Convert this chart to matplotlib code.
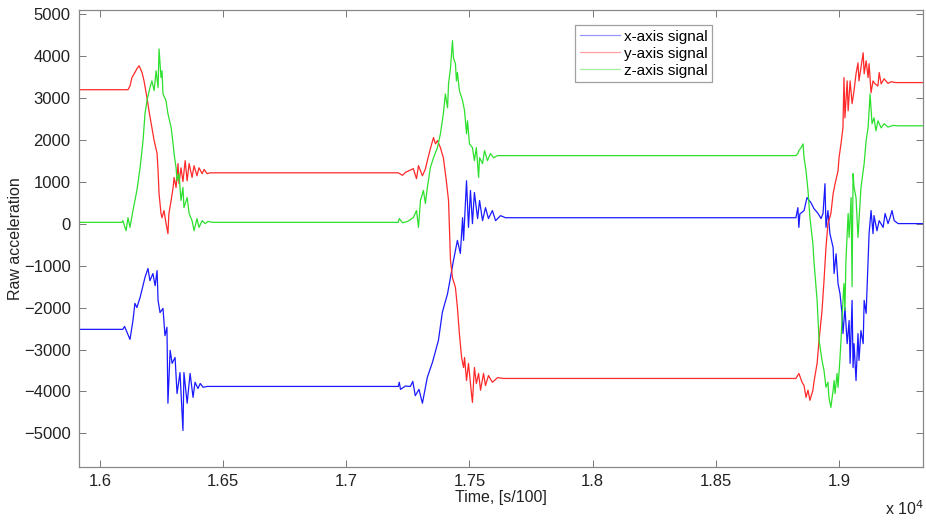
import matplotlib
matplotlib.use("Agg")
from matplotlib import pyplot as plt

plt.rcParams['font.family'] = ['Liberation Sans', 'DejaVu Sans']

# x-axis signal (blue)
x_t = [15915, 16093, 16100, 16122, 16134, 16142, 16150, 16163, 16183, 16195,
       16203, 16215, 16224, 16232, 16236, 16244, 16256, 16264, 16272, 16276,
       16285, 16293, 16305, 16313, 16325, 16337, 16341, 16354, 16366, 16378,
       16386, 16398, 16407, 16419, 16435, 17211, 17215, 17220, 17240, 17260,
       17270, 17280, 17295, 17309, 17318, 17329, 17350, 17374, 17390, 17411,
       17423, 17435, 17451, 17463, 17472, 17476, 17488, 17496, 17504, 17512,
       17520, 17533, 17541, 17553, 17565, 17577, 17593, 17606, 17626, 17646,
       18825, 18833, 18837, 18841, 18858, 18870, 18886, 18898, 18915, 18927,
       18935, 18943, 18947, 18955, 18963, 18976, 18980, 18988, 18996, 19004,
       19012, 19016, 19024, 19033, 19041, 19045, 19053, 19057, 19061, 19069,
       19077, 19081, 19089, 19098, 19102, 19110, 19118, 19122, 19130, 19138,
       19142, 19154, 19163, 19179, 19187, 19199, 19207, 19215, 19224, 19240,
       19341]
x_v = [-2520, -2520, -2450, -2760, -2310, -1900, -2000, -1760, -1280, -1070,
       -1360, -1190, -1480, -1120, -1830, -2120, -2020, -2670, -2470, -4280,
       -3020, -3330, -3190, -4050, -3550, -4930, -3550, -4280, -3570, -4140,
       -3780, -3930, -3810, -3900, -3880, -3880, -3780, -3950, -3870, -3880,
       -3760, -4100, -3950, -4280, -4000, -3660, -3300, -2780, -2110, -1670,
       -1280, -880, -400, -710, 140, -400, 1020, -90, 790, 0,
       740, 120, 550, 70, 380, 120, 310, 70, 190, 140,
       140, 380, -90, 230, 310, 620, 500, 360, 240, 120,
       240, 950, -90, 310, -240, -570, -1190, -720, -1430, -1670,
       -2140, -2620, -2000, -2860, -2310, -3330, -1830, -3430, -2860, -3740,
       -2620, -3260, -2550, -2860, -1830, -2140, -880, -240, 310, -240,
       190, -170, 70, -90, 240, 0, 140, 310, 70, 0,
       0]

# y-axis signal (red)
y_t = [15915, 16114, 16122, 16130, 16142, 16150, 16159, 16171, 16179, 16191,
       16199, 16211, 16220, 16232, 16236, 16240, 16248, 16252, 16260, 16268,
       16276, 16280, 16289, 16297, 16301, 16309, 16317, 16321, 16329, 16337,
       16346, 16354, 16362, 16374, 16382, 16394, 16402, 16415, 16423, 16435,
       16447, 17211, 17228, 17240, 17272, 17285, 17293, 17309, 17321, 17329,
       17341, 17354, 17362, 17370, 17382, 17394, 17406, 17415, 17423, 17431,
       17443, 17451, 17459, 17468, 17476, 17480, 17488, 17496, 17508, 17512,
       17520, 17528, 17537, 17545, 17557, 17565, 17577, 17593, 17614, 17638,
       18825, 18837, 18850, 18858, 18866, 18874, 18882, 18894, 18898, 18911,
       18919, 18931, 18939, 18947, 18955, 18967, 18976, 18984, 18996, 19000,
       19008, 19016, 19020, 19024, 19033, 19037, 19045, 19053, 19061, 19069,
       19077, 19081, 19089, 19098, 19102, 19110, 19118, 19122, 19130, 19138,
       19146, 19158, 19163, 19171, 19183, 19199, 19211, 19232, 19341]
y_v = [3190, 3190, 3280, 3480, 3600, 3690, 3760, 3600, 3400, 3000,
       2690, 2290, 1980, 1670, 1260, 710, 240, 140, 310, 20,
       -240, 240, 550, 860, 1100, 860, 1430, 950, 1330, 1000,
       1500, 1020, 1430, 1100, 1380, 1140, 1330, 1190, 1290, 1190,
       1210, 1210, 1150, 1220, 1310, 1070, 1380, 1140, 1300, 1500,
       1780, 2050, 1900, 1980, 1810, 1570, 1020, 550, -880, -1290,
       -1520, -2000, -2620, -3190, -3430, -3190, -3740, -3330, -4050, -4260,
       -3430, -3810, -3570, -3970, -3570, -3860, -3620, -3780, -3670, -3690,
       -3690, -3570, -3780, -3860, -4140, -3970, -4210, -3970, -3780, -3330,
       -2780, -2070, -1360, -570, 0, 240, 710, 950, 1260, 1570,
       1900, 2290, 3480, 2520, 3400, 2690, 3400, 2860, 3170, 3570,
       3830, 3400, 3710, 4070, 3570, 3880, 3480, 3810, 3120, 3400,
       3330, 3280, 3600, 3330, 3450, 3340, 3380, 3360, 3360]

# z-axis signal (green)
z_t = [15915, 16089, 16093, 16106, 16114, 16122, 16134, 16142, 16150, 16163,
       16175, 16183, 16191, 16203, 16211, 16220, 16228, 16236, 16240, 16248,
       16252, 16256, 16268, 16276, 16289, 16297, 16301, 16309, 16313, 16321,
       16329, 16337, 16341, 16354, 16362, 16374, 16382, 16394, 16402, 16415,
       16427, 16439, 16459, 17211, 17215, 17228, 17248, 17272, 17285, 17293,
       17301, 17313, 17321, 17329, 17341, 17354, 17370, 17382, 17394, 17402,
       17411, 17415, 17423, 17431, 17435, 17443, 17447, 17451, 17459, 17472,
       17480, 17488, 17492, 17500, 17512, 17520, 17528, 17537, 17541, 17553,
       17561, 17573, 17585, 17598, 17614, 17638, 18825, 18833, 18837, 18846,
       18854, 18858, 18866, 18874, 18882, 18894, 18898, 18911, 18919, 18931,
       18939, 18947, 18955, 18959, 18967, 18976, 18980, 18984, 18992, 18996,
       19004, 19008, 19016, 19020, 19024, 19028, 19037, 19041, 19049, 19053,
       19057, 19061, 19069, 19077, 19089, 19102, 19110, 19118, 19126, 19134,
       19142, 19150, 19158, 19171, 19183, 19199, 19220, 19240, 19341]
z_v = [30, 30, 70, -170, 140, -90, 310, 550, 790, 1330,
       1980, 2620, 2930, 3240, 3400, 3170, 3640, 3240, 4160, 3480,
       3640, 3090, 2930, 2620, 2290, 1900, 1660, 1330, 1020, 1190,
       550, 860, 380, 620, 240, 70, -170, 120, -90, 70,
       0, 50, 30, 30, 120, 20, 50, 140, 310, -90,
       550, 790, 480, 860, 1330, 1570, 1810, 2140, 2620, 3090,
       2760, 3330, 3710, 4360, 3950, 3810, 3400, 3600, 3170, 2930,
       2690, 2140, 2450, 1900, 1810, 1500, 1810, 1100, 1570, 1430,
       1740, 1500, 1670, 1570, 1620, 1620, 1620, 1670, 1740, 1810,
       1900, 1570, 1260, 790, 140, -480, -880, -1830, -2780, -3260,
       -3500, -3900, -3780, -4140, -4380, -3970, -3740, -4050, -3570, -3900,
       -3190, -2780, -1830, -1430, -2070, -880, 240, -330, 620, -1500,
       1190, 860, 620, -330, 860, 1430, 1980, 2290, 3090, 2380,
       2520, 2210, 2450, 2280, 2380, 2300, 2340, 2330, 2330]

xtick_pos = [16000, 16500, 17000, 17500, 18000, 18500, 19000]
xtick_lab = ['1.6', '1.65', '1.7', '1.75', '1.8', '1.85', '1.9']
ytick_pos = [-5000, -4000, -3000, -2000, -1000, 0, 1000, 2000, 3000, 4000, 5000]

fig = plt.figure(figsize=(9.26, 5.2), dpi=100)
ax = fig.add_axes([0.0853, 0.1019, 0.9115, 0.8789])

ax.plot(x_t, x_v, color='#1a1aff', lw=0.9, label='x-axis signal')
ax.plot(y_t, y_v, color='#ff2a2a', lw=0.9, label='y-axis signal')
ax.plot(z_t, z_v, color='#2ee02e', lw=0.9, label='z-axis signal')

ax.set_xlim(15915, 19341)
ax.set_ylim(-5800, 5090)
ax.set_xticks(xtick_pos)
ax.set_xticklabels(xtick_lab)
ax.set_yticks(ytick_pos)
ax.tick_params(direction='in', top=True, right=True, length=5, width=0.7,
               color='#777777', labelsize=12, labelcolor='#222222', pad=6)
ax.tick_params(axis='x', pad=5)
for s in ax.spines.values():
    s.set_color('#888888')
    s.set_linewidth(0.9)

ax.set_xlabel('Time, [s/100]', fontsize=11.5, color='#222222')
ax.xaxis.set_label_coords(0.5, -0.051)
ax.set_ylabel('Raw acceleration', fontsize=11.5, color='#222222')
ax.yaxis.set_label_coords(-0.066, 0.5)
fig.text(0.998, 0.01, r'x 10$^4$', fontsize=11.5, color='#222222', ha='right')

leg = ax.legend(loc='upper left', bbox_to_anchor=(0.579, 0.984), fontsize=11,
                frameon=True, fancybox=False, handlelength=2.6,
                borderpad=0.3, labelspacing=0.2, handletextpad=0.3)
leg.get_frame().set_edgecolor('#888888')
leg.get_frame().set_linewidth(0.9)
for line in leg.get_lines():
    line.set_alpha(0.45)

fig.savefig('out.png', dpi=100)
